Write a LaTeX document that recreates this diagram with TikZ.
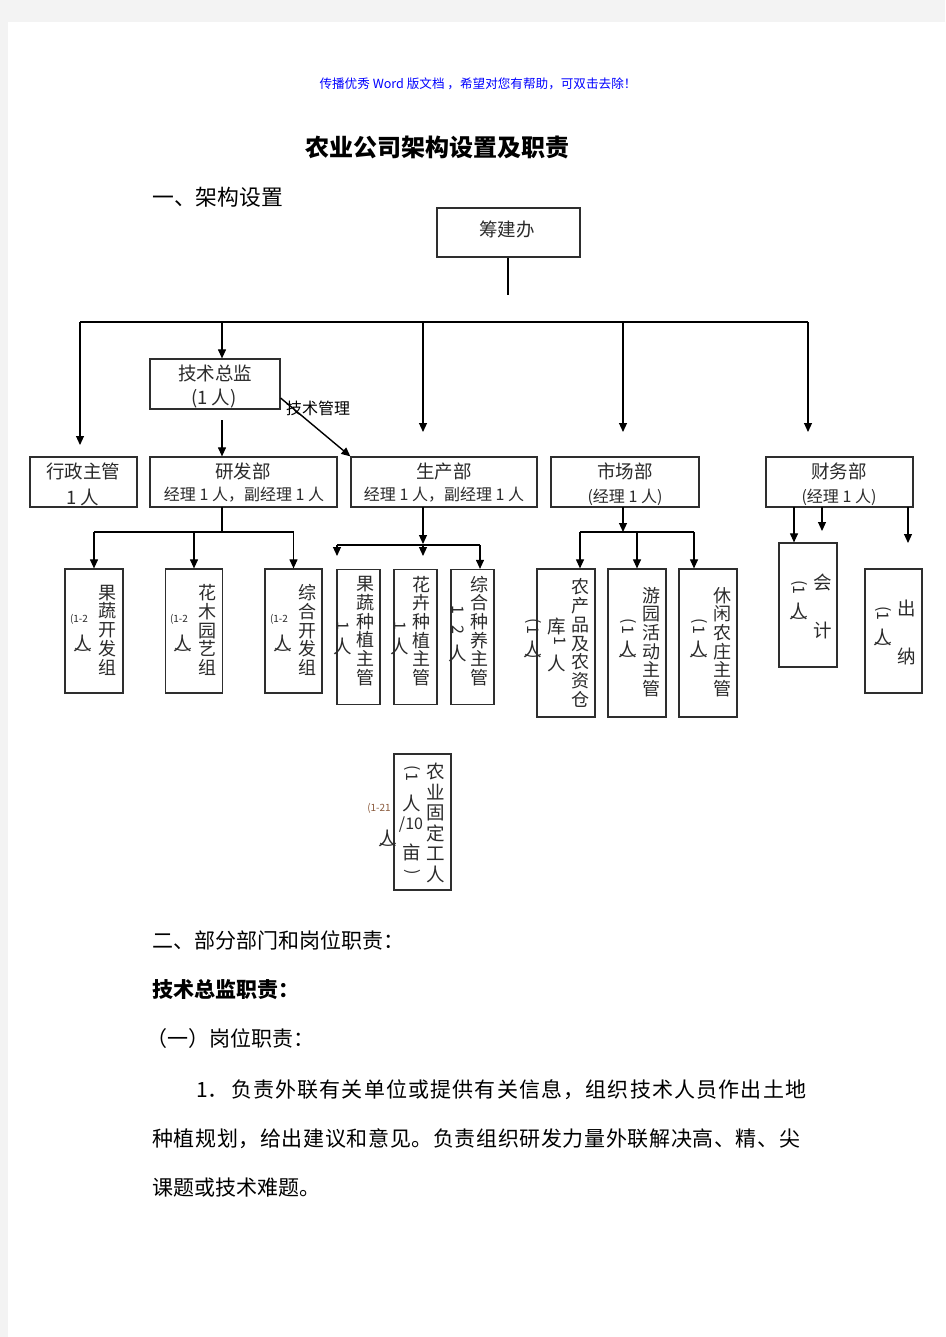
\documentclass[tikz,border=0pt]{standalone}
\usepackage{fontspec}
\setmainfont{Noto Sans CJK SC}
\usetikzlibrary{arrows.meta, positioning}
\definecolor{boxline}{HTML}{2E2E2E}
\definecolor{txt}{HTML}{2B2B2B}
\definecolor{pagegray}{HTML}{F3F3F3}
\definecolor{headblue}{HTML}{0000FF}
\definecolor{notebrown}{HTML}{8A5A3C}
% spread the characters of a line over a fixed width
\def\spreadtext#1#2\relax{#1\spreadrest#2\relax}
\def\spreadrest#1{\ifx\relax#1\else\hfill#1\expandafter\spreadrest\fi}
\tikzset{
  box/.style={draw=boxline, line width=1.2pt, inner sep=0pt},
  conn/.style={draw=black, line width=1.1pt},
  arr/.style={conn, -{Triangle[length=9pt,width=8pt]}},
  btxt/.style={font=\fontsize{18.5}{18.5}\selectfont, text=txt, inner sep=0pt},
  stxt/.style={font=\fontsize{16}{16}\selectfont, text=txt, inner sep=0pt},
  vcol/.style={align=center, font=\fontsize{18}{18.7}\selectfont, text=txt, inner sep=0pt},
  rot/.style={rotate=-90, font=\fontsize{16}{16}\selectfont, text=txt, inner sep=0pt},
  tinytxt/.style={font=\fontsize{10}{10}\selectfont, text=txt, inner sep=0pt},
  body/.style={anchor=west, font=\fontsize{21}{21}\selectfont, inner sep=0pt}
}

\begin{document}
\begin{tikzpicture}[x=1pt, y=-1pt]
  \useasboundingbox (0,0) rectangle (945,1337);
  \fill[pagegray] (0,0) rectangle (945,1337);
  \fill[white] (8,22) rectangle (945,1337);

  % heading lines
  \node[font=\fontsize{12.6}{12.6}\selectfont, text=headblue, inner sep=0pt] (hint) at (478,84) {传播优秀 Word 版文档 ，希望对您有帮助，可双击去除！};
  \node[font=\bfseries\fontsize{24}{24}\selectfont, inner sep=0pt] (title) at (437,147) {农业公司架构设置及职责};
  \node[anchor=west, font=\fontsize{21.8}{21.8}\selectfont, inner sep=0pt] (sec1) at (152,197) {一、架构设置};

  % top level boxes
  \node[box, minimum width=143pt, minimum height=49pt] (chou) at (508.5,232.5) {};
  \node[btxt] (chout) at (507,229) {筹建办};
  \node[box, minimum width=130pt, minimum height=50pt] (jszj) at (215,384) {};
  \node[btxt] (jszjt) at (215,373) {技术总监};
  \node[btxt] (jszjs) at (214,399) {(1 人)};
  \node[box, minimum width=107pt, minimum height=50pt] (xz) at (83.5,482) {};
  \node[btxt] (xzt) at (83,471) {行政主管};
  \node[btxt] (xzs) at (83,497) {1 人};
  \node[box, minimum width=187pt, minimum height=50pt] (yf) at (243.5,482) {};
  \node[btxt] (yft) at (243,471) {研发部};
  \node[stxt] (yfs) at (244,495) {经理 1 人，副经理 1 人};
  \node[box, minimum width=186pt, minimum height=50pt] (sc) at (444,482) {};
  \node[btxt] (sct) at (444,471) {生产部};
  \node[stxt] (scs) at (444,495) {经理 1 人，副经理 1 人};
  \node[box, minimum width=148pt, minimum height=50pt] (shc) at (625,482) {};
  \node[btxt] (shct) at (625,471) {市场部};
  \node[stxt] (shcs) at (625,497) {(经理 1 人)};
  \node[box, minimum width=147pt, minimum height=50pt] (cw) at (839.5,482) {};
  \node[btxt] (cwt) at (839,471) {财务部};
  \node[stxt] (cws) at (839,497) {(经理 1 人)};

  % trunk
  \coordinate (cjend) at (508,295);
  \coordinate (t1) at (80,322);
  \coordinate (t2) at (222,322);
  \coordinate (t3) at (423,322);
  \coordinate (t4) at (623,322);
  \coordinate (t5) at (808,322);
  \draw[conn] (chou.south -| cjend) -- (cjend);
  \draw[conn] (t1) -- (t5);
  \draw[arr] (t1) -- ++(0,123);
  \draw[arr] (t2) -- (t2 |- jszj.north);
  \draw[arr] (t3) -- ++(0,110);
  \draw[arr] (t4) -- ++(0,110);
  \draw[arr] (t5) -- ++(0,110);

  % technical director
  \coordinate (jsdown) at (222,420);
  \draw[arr] (jsdown) -- (jsdown |- yf.north);
  \draw[arr, line width=1.4pt] ([yshift=-14pt]jszj.east) -- (sc.north west);
  \node[font=\fontsize{16}{16}\selectfont, inner sep=0pt, anchor=west] (jsgl) at (286,408) {技术管理};

  % R&D groups
  \node[box, minimum width=58pt, minimum height=124pt] (g1) at (94,631) {};
  \node[box, minimum width=57pt, minimum height=124pt] (g2) at (194,631) {};
  \node[box, minimum width=57pt, minimum height=124pt] (g3) at (293.5,631) {};
  \coordinate (yfdown) at (222,507);
  \coordinate (yfbar) at (222,532);
  \draw[conn] (yfdown) -- (yfbar);
  \draw[conn] (g1.north |- yfbar) -- (g3.north |- yfbar);
  \foreach \g in {g1,g2,g3}
    \draw[arr] (\g.north |- yfbar) -- (\g.north);
  \node[vcol] (g1t) at (107,630) {果\\蔬\\开\\发\\组};
  \node[vcol] (g2t) at (207,630) {花\\木\\园\\艺\\组};
  \node[vcol] (g3t) at (307,630) {综\\合\\开\\发\\组};
  \foreach \g/\x in {g1/79,g2/179,g3/279}{
    \node[tinytxt] (\g n) at (\x,619) {(1-2};
    \node[btxt] (\g r) at (\x+4,643) {人};
    \node[rot] (\g b) at (\x+4,650) {)};
  }

  % production
  \node[box, minimum width=43pt, minimum height=135pt] (p1) at (358.5,637) {};
  \node[box, minimum width=43pt, minimum height=135pt] (p2) at (415.5,637) {};
  \node[box, minimum width=43pt, minimum height=135pt] (p3) at (472.5,637) {};
  \coordinate (scdown) at (423,507);
  \coordinate (scbar) at (423,545);
  \coordinate (scl) at (337,545);
  \coordinate (scr) at (480,545);
  \draw[arr] (scdown) -- ([yshift=1pt]scbar);
  \draw[conn] (scl) -- (scr);
  \draw[arr] (scl) -- ++(0,11);
  \draw[arr] (scbar) -- ++(0,11);
  \draw[arr] (scr) -- (scr |- p3.north);
  \node[vcol] (p1t) at (365,631) {果\\蔬\\种\\植\\主\\管};
  \node[vcol] (p2t) at (421,631) {花\\卉\\种\\植\\主\\管};
  \node[vcol] (p3t) at (479,631) {综\\合\\种\\养\\主\\管};
  \foreach \p/\x in {p1/343,p2/400}{
    \node[rot] (\p n) at (\x,626) {1};
    \node[btxt] (\p r) at (\x,646) {人};
  }
  \node[rot] (p3n) at (458,610) {1};
  \node[rot] (p3m) at (458,630) {2};
  \node[btxt] (p3r) at (458,653) {人};

  % market
  \node[box, minimum width=58pt, minimum height=148pt] (m1) at (566,643) {};
  \node[box, minimum width=58pt, minimum height=148pt] (m2) at (637,643) {};
  \node[box, minimum width=58pt, minimum height=148pt] (m3) at (708,643) {};
  \coordinate (shcdown) at (623,507);
  \coordinate (shcbar) at (623,532);
  \draw[arr] (shcdown) -- (shcbar);
  \coordinate (mb1) at (580,532);
  \coordinate (mb3) at (694,532);
  \draw[conn] (mb1) -- (mb3);
  \draw[arr] (mb1) -- (mb1 |- m1.north);
  \draw[arr] (m2.north |- mb1) -- (m2.north);
  \draw[arr] (mb3) -- (mb3 |- m3.north);
  \node[vcol] (m1t) at (580,643) {农\\产\\品\\及\\农\\资\\仓};
  \node[btxt] (m1k) at (557,627) {库};
  \node[rot] (m1o) at (560,641) {1};
  \node[btxt] (m1p) at (557,663) {人};
  \node[vcol] (m2t) at (651,642) {游\\园\\活\\动\\主\\管};
  \node[vcol] (m3t) at (722,642) {休\\闲\\农\\庄\\主\\管};
  \foreach \m/\x in {m1/533,m2/628,m3/699}{
    \node[rot] (\m a) at (\x,621) {(};
    \node[rot] (\m n) at (\x,630) {1};
    \node[btxt] (\m r) at (\x,649) {人};
    \node[rot] (\m b) at (\x,656) {)};
  }

  % finance
  \node[box, minimum width=58pt, minimum height=124pt] (kj) at (808,605) {};
  \node[box, minimum width=57pt, minimum height=124pt] (cn) at (893.5,631) {};
  \coordinate (cw1) at (794,507);
  \coordinate (cw2) at (822,507);
  \coordinate (cw3) at (908,507);
  \draw[arr] (cw1) -- (cw1 |- kj.north);
  \draw[arr] (cw2) -- ++(0,24);
  \draw[arr] (cw3) -- ++(0,36);
  \node[btxt] (kjt) at (823,582) {会};
  \node[btxt] (kjb) at (823,630) {计};
  \node[btxt] (cnt) at (907,608) {出};
  \node[btxt] (cnb) at (907,656) {纳};
  \foreach \f/\x/\y in {kj/799/585,cn/883/611}{
    \node[rot] (\f a) at (\x,\y-2) {(};
    \node[rot] (\f n) at (\x,\y+5) {1};
    \node[btxt] (\f r) at (\x,\y+26) {人};
    \node[rot] (\f b) at (\x,\y+33) {)};
  }

  % fixed workers
  \node[box, minimum width=57pt, minimum height=136pt] (gd) at (422.5,822) {};
  \node[vcol, font=\fontsize{18.5}{20.5}\selectfont] (gdt) at (436,823) {农\\业\\固\\定\\工\\人};
  \node[rot] (gda) at (412,768) {(};
  \node[rot] (gdn) at (412,777) {1};
  \node[btxt] (gdr) at (412,803) {人};
  \node[stxt] (gdm) at (411,825) {/10};
  \node[btxt] (gdu) at (412,852) {亩};
  \node[rot] (gdb) at (412,872) {)};
  \node[tinytxt, text=notebrown] (gdx) at (379,808) {(1-21};
  \node[btxt] (gdp) at (388,838) {人};
  \node[rot] (gdq) at (388,845) {)};

  % duties text
  \node[body] (sec2) at (152,940) {二、部分部门和岗位职责：};
  \node[body, font=\bfseries\fontsize{21}{21}\selectfont] (duty) at (152,990) {技术总监职责：};
  \node[body] (post) at (146,1039) {（一）岗位职责：};
  \node[body] (item) at (196,1090) {1．};
  \node[body] (line1) at (231,1090) {\hbox to 575pt{\spreadtext 负责外联有关单位或提供有关信息，组织技术人员作出土地\relax}};
  \node[body] (line2) at (152,1139) {\hbox to 648pt{\spreadtext 种植规划，给出建议和意见。负责组织研发力量外联解决高、精、尖\relax}};
  \node[body] (line3) at (152,1188) {课题或技术难题。};
\end{tikzpicture}
\end{document}
